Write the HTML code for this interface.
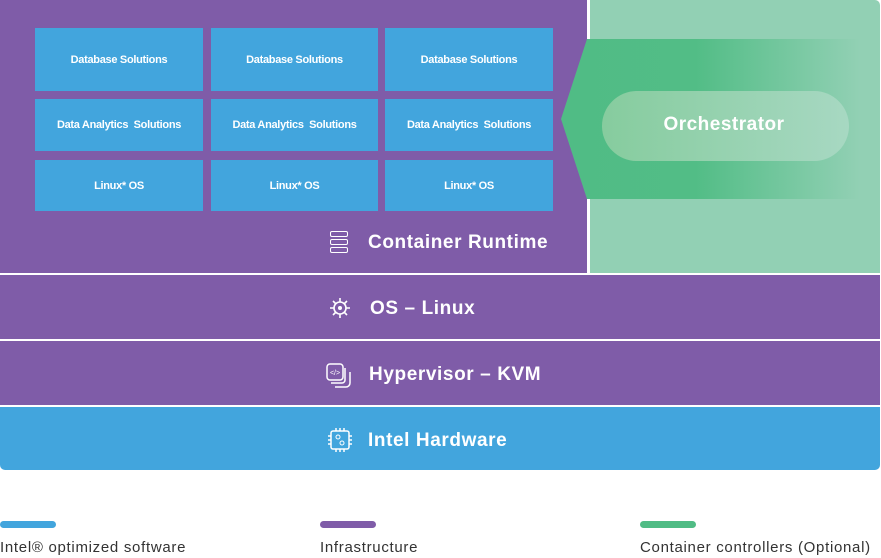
<!DOCTYPE html>
<html><head><style>
body{margin:0;width:881px;height:558px;background:#fff;font-family:"Liberation Sans",sans-serif;position:relative;overflow:hidden}
.a{position:absolute}
.box{position:absolute;background:#42a5dd;color:#fff;font-size:11px;font-weight:bold;display:flex;align-items:center;justify-content:center;letter-spacing:-0.3px}
.band{position:absolute;left:0;width:880px}
.t{position:absolute;color:#fff;font-size:19px;font-weight:bold;letter-spacing:0.6px}
.lg{position:absolute;top:539px;font-size:15px;color:#333;letter-spacing:0.7px}
.bar{position:absolute;top:521px;width:56px;height:7px;border-radius:4px}
</style></head><body>
<div class="a" style="left:0;top:0;width:587px;height:273px;background:#7f5ca8"></div>
<div class="a" style="left:590px;top:0;width:290px;height:273px;background:#92d0b4;border-radius:0 5px 0 0"></div>
<svg class="a" style="left:0;top:0" width="881" height="273">
<defs><linearGradient id="g" x1="0" x2="1"><stop offset="0" stop-color="#50bc85"/><stop offset="0.45" stop-color="#52bd86"/><stop offset="1" stop-color="#92d0b4"/></linearGradient>
<linearGradient id="p" x1="0" x2="1"><stop offset="0" stop-color="#86cc9e"/><stop offset="1" stop-color="#a7d8c2"/></linearGradient></defs>
<polygon points="587,39 860,39 860,199 587,199 561,119" fill="url(#g)"/>
<rect x="602" y="91" width="247" height="70" rx="35" fill="url(#p)"/>
<text x="724" y="130" fill="#fff" font-size="19" font-weight="bold" text-anchor="middle" letter-spacing="0.5" font-family="Liberation Sans">Orchestrator</text>
</svg>
<div class="box" style="left:35px;top:28px;width:168px;height:63px">Database Solutions</div>
<div class="box" style="left:211px;top:28px;width:167px;height:63px">Database Solutions</div>
<div class="box" style="left:385px;top:28px;width:168px;height:63px">Database Solutions</div>
<div class="box" style="left:35px;top:99px;width:168px;height:52px">Data Analytics&nbsp; Solutions</div>
<div class="box" style="left:211px;top:99px;width:167px;height:52px">Data Analytics&nbsp; Solutions</div>
<div class="box" style="left:385px;top:99px;width:168px;height:52px">Data Analytics&nbsp; Solutions</div>
<div class="box" style="left:35px;top:160px;width:168px;height:51px">Linux* OS</div>
<div class="box" style="left:211px;top:160px;width:167px;height:51px">Linux* OS</div>
<div class="box" style="left:385px;top:160px;width:168px;height:51px">Linux* OS</div>
<div class="a" style="left:330px;top:231px;width:18px;height:24px">
<div style="border:1.5px solid #fff;border-radius:2px;margin-bottom:2px;box-sizing:border-box;height:6px"></div>
<div style="border:1.5px solid #fff;border-radius:2px;margin-bottom:2px;box-sizing:border-box;height:6px"></div>
<div style="border:1.5px solid #fff;border-radius:2px;box-sizing:border-box;height:6px"></div></div>
<div class="t" style="left:368px;top:232px">Container Runtime</div>
<div class="band" style="top:275px;height:64px;background:#7f5ca8"></div>
<svg class="a" style="left:329px;top:297px" width="22" height="22"><circle cx="11" cy="11" r="6" fill="none" stroke="#fff" stroke-width="1.6"/><circle cx="11" cy="11" r="2" fill="#fff"/><path d="M11 1v4M11 17v4M1 11h4M17 11h4M4 4l3 3M15 15l3 3M4 18l3-3M15 7l3-3" stroke="#fff" stroke-width="1.6"/></svg>
<div class="t" style="left:370px;top:298px">OS – Linux</div>
<div class="band" style="top:341px;height:64px;background:#7f5ca8"></div>
<svg class="a" style="left:326px;top:363px" width="28" height="26"><rect x="1" y="1" width="16" height="16" rx="3" fill="none" stroke="#fff" stroke-width="1.5"/><path d="M19 5v12a3 3 0 0 1-3 3H5M24 9v11a4 4 0 0 1-4 4H9" fill="none" stroke="#fff" stroke-width="1.5"/><text x="9" y="12" font-size="7" fill="#fff" text-anchor="middle">&lt;/&gt;</text></svg>
<div class="t" style="left:369px;top:364px">Hypervisor – KVM</div>
<div class="band" style="top:407px;height:63px;background:#42a5dd;border-radius:0 0 5px 5px"></div>
<svg class="a" style="left:327px;top:427px" width="26" height="26"><rect x="4" y="4" width="18" height="18" rx="2" fill="none" stroke="#fff" stroke-width="1.5"/><path d="M9 1v3M13 1v3M17 1v3M9 22v3M13 22v3M17 22v3M1 9h3M1 13h3M1 17h3M22 9h3M22 13h3M22 17h3" stroke="#fff" stroke-width="1.5"/><circle cx="11" cy="10" r="2" fill="none" stroke="#fff"/><circle cx="15" cy="16" r="2" fill="none" stroke="#fff"/></svg>
<div class="t" style="left:368px;top:430px">Intel Hardware</div>
<div class="bar" style="left:0;background:#42a5dd"></div>
<div class="bar" style="left:320px;background:#7f5ca8"></div>
<div class="bar" style="left:640px;background:#50bc85"></div>
<div class="lg" style="left:0">Intel® optimized software</div>
<div class="lg" style="left:320px">Infrastructure</div>
<div class="lg" style="left:640px">Container controllers (Optional)</div>
</body></html>
